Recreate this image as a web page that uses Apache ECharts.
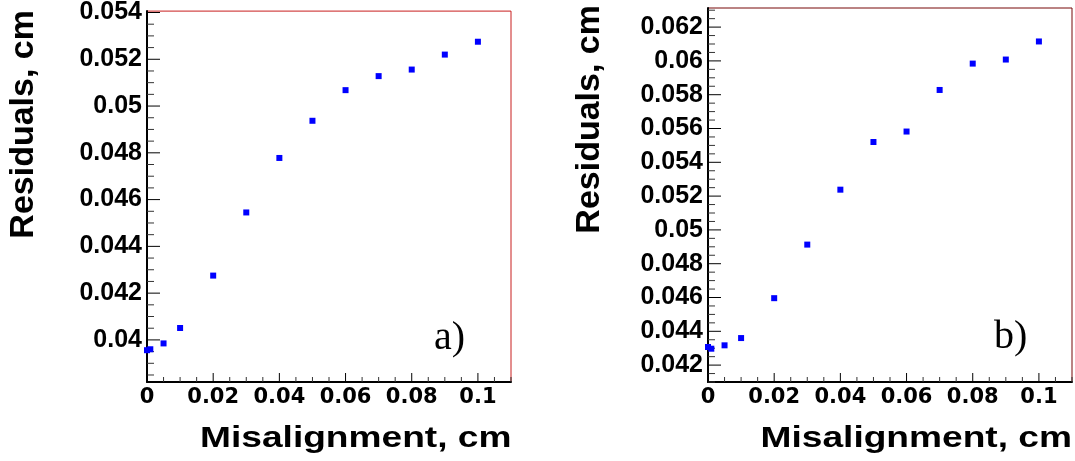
<!DOCTYPE html>
<html>
<head>
<meta charset="utf-8">
<script src="https://cdn.jsdelivr.net/npm/echarts@6.0.0/dist/echarts.min.js"></script>
<style>
  html, body { margin: 0; padding: 0; background: #ffffff; }
  #chart { width: 1075px; height: 461px; }
</style>
</head>
<body>
<div id="chart"></div>
<script>
// ---- data ----
const misalignment = [0, 0.001, 0.005, 0.01, 0.02, 0.03, 0.04, 0.05, 0.06, 0.07, 0.08, 0.09, 0.1];
const residualsA = [0.03956, 0.03960, 0.03985, 0.04051, 0.04275, 0.04545, 0.04778, 0.04937, 0.05068, 0.05128, 0.05156, 0.05220, 0.05275];
const residualsB = [0.04307, 0.04297, 0.04317, 0.04360, 0.04596, 0.04913, 0.05238, 0.05520, 0.05582, 0.05828, 0.05984, 0.06008, 0.06115];

const xTickValues = [0, 0.02, 0.04, 0.06, 0.08, 0.1];
const xTickLabels = ['0', '0.02', '0.04', '0.06', '0.08', '0.1'];
const yTickValuesA = [0.040, 0.042, 0.044, 0.046, 0.048, 0.050, 0.052, 0.054];
const yTickLabelsA = ['0.04', '0.042', '0.044', '0.046', '0.048', '0.05', '0.052', '0.054'];
const yTickValuesB = [0.042, 0.044, 0.046, 0.048, 0.050, 0.052, 0.054, 0.056, 0.058, 0.060, 0.062];
const yTickLabelsB = ['0.042', '0.044', '0.046', '0.048', '0.05', '0.052', '0.054', '0.056', '0.058', '0.06', '0.062'];

const xRange = [0, 0.11];
const yRangeA = [0.0382, 0.05406];
const yRangeB = [0.0410, 0.06313];

const panelLabels = ['a)', 'b)'];
const xTitle = 'Misalignment, cm';
const yTitle = 'Residuals, cm';

// minor tick positions (every 0.005 on x, every 0.0005 on y)
function minorTicks(lo, hi, step, majors) {
  const out = [];
  const start = Math.ceil(lo / step - 1e-9);
  const end = Math.floor(hi / step + 1e-9);
  for (let k = start; k <= end; k++) {
    const v = +(k * step).toFixed(6);
    if (!majors.some(m => Math.abs(m - v) < 1e-9)) out.push(v);
  }
  return out;
}
function labeller(values, labels) {
  return function (v) {
    const i = values.findIndex(t => Math.abs(t - v) < 1e-9);
    return i >= 0 ? labels[i] : '';
  };
}
// tick marks as thin rect symbols placed through the axes' scales
function tickSeries(gi, points, size, offset, color) {
  return {
    type: 'scatter', xAxisIndex: gi, yAxisIndex: gi, silent: true, clip: false, z: 3,
    symbol: 'rect', symbolSize: size, symbolOffset: offset,
    itemStyle: { color: color, opacity: 1 },
    emphasis: { disabled: true },
    data: points
  };
}

const chart = echarts.init(document.getElementById('chart'));

const boxes = [
  { left: 147, top: 9, width: 364, height: 373, borderColor: '#c81e1e' },
  { left: 708, top: 8, width: 364, height: 374, borderColor: '#760808' }
];
const yRanges = [yRangeA, yRangeB];
const yTicks = [yTickValuesA, yTickValuesB];
const yLabels = [yTickLabelsA, yTickLabelsB];
const seriesData = [residualsA, residualsB];

const grids = [], xAxes = [], yAxes = [], series = [];
boxes.forEach((g, i) => {
  grids.push({ left: g.left, top: g.top, width: g.width, height: g.height,
    show: true, borderColor: g.borderColor, borderWidth: 1, containLabel: false });
  xAxes.push({
    type: 'value', gridIndex: i, min: xRange[0], max: xRange[1], position: 'bottom',
    axisLine: { show: true, onZero: false, lineStyle: { color: '#000', width: 2 } },
    axisTick: { show: false },
    axisLabel: { customValues: xTickValues, formatter: labeller(xTickValues, xTickLabels),
      fontFamily: 'DejaVu Sans', fontWeight: 'bold', fontSize: 21, color: '#000', margin: 5 },
    splitLine: { show: false }
  });
  yAxes.push({
    type: 'value', gridIndex: i, min: yRanges[i][0], max: yRanges[i][1], position: 'left',
    axisLine: { show: true, onZero: false, lineStyle: { color: '#000', width: 2 } },
    axisTick: { show: false },
    axisLabel: { customValues: yTicks[i], formatter: labeller(yTicks[i], yLabels[i]),
      fontFamily: 'Liberation Sans', fontWeight: 'bold', fontSize: 25, color: '#000', margin: 5,
      padding: [7, 0, 0, 0] },
    splitLine: { show: false }
  });

  const x0 = xRange[0], y0 = yRanges[i][0];
  series.push(tickSeries(i, yTicks[i].map(v => [x0, v]), [13, 1], [6.5, 0], '#000'));
  series.push(tickSeries(i, minorTicks(yRanges[i][0], yRanges[i][1], 0.0005, yTicks[i]).map(v => [x0, v]), [7, 1], [3.5, 0], '#333'));
  series.push(tickSeries(i, xTickValues.map(v => [v, y0]), [1, 9], [0, -4.5], '#000'));
  series.push(tickSeries(i, minorTicks(xRange[0], xRange[1], 0.005, xTickValues).map(v => [v, y0]), [1, 5], [0, -2.5], '#333'));

  series.push({
    type: 'scatter', xAxisIndex: i, yAxisIndex: i, z: 4,
    symbol: 'rect', symbolSize: 6,
    itemStyle: { color: '#0000ff', opacity: 1 },
    data: misalignment.map((x, k) => [x, seriesData[i][k]])
  });
});

const option = {
  animation: false,
  grid: grids,
  xAxis: xAxes,
  yAxis: yAxes,
  series: series,
  graphic: [
    { type: 'text', x: 511.5, y: 439, scaleX: 1.28, z: 10,
      style: { text: xTitle, fontFamily: 'Liberation Sans', fontWeight: 'bold', fontSize: 29, fill: '#000', align: 'right', verticalAlign: 'middle' } },
    { type: 'text', x: 1072, y: 439, scaleX: 1.28, z: 10,
      style: { text: xTitle, fontFamily: 'Liberation Sans', fontWeight: 'bold', fontSize: 29, fill: '#000', align: 'right', verticalAlign: 'middle' } },
    { type: 'text', x: 23.5, y: 10, rotation: Math.PI / 2, z: 10,
      style: { text: yTitle, fontFamily: 'Liberation Sans', fontWeight: 'bold', fontSize: 34, fill: '#000', align: 'right', verticalAlign: 'middle' } },
    { type: 'text', x: 590, y: 5, rotation: Math.PI / 2, z: 10,
      style: { text: yTitle, fontFamily: 'Liberation Sans', fontWeight: 'bold', fontSize: 34, fill: '#000', align: 'right', verticalAlign: 'middle' } },
    { type: 'text', x: 434, y: 338, z: 10,
      style: { text: panelLabels[0], fontFamily: 'Liberation Serif', fontSize: 40, fill: '#000', align: 'left', verticalAlign: 'middle' } },
    { type: 'text', x: 994, y: 337, z: 10,
      style: { text: panelLabels[1], fontFamily: 'Liberation Serif', fontSize: 40, fill: '#000', align: 'left', verticalAlign: 'middle' } }
  ]
};
chart.setOption(option);
</script>
</body>
</html>
